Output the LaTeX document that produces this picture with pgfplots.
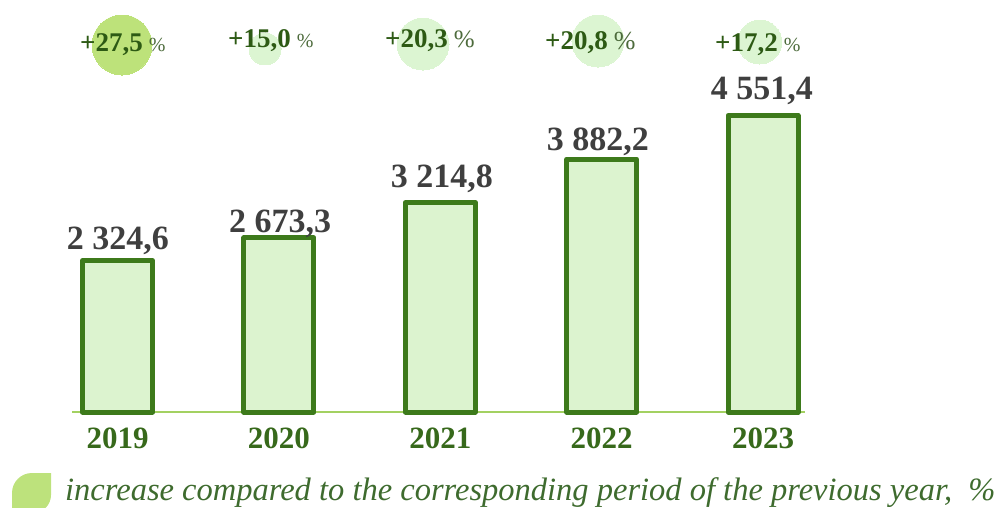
\documentclass[border=0pt]{standalone}
\usepackage{fontspec}
\setmainfont{Liberation Serif}
\usepackage{xcolor}
\usepackage{pgfplots}
\pgfplotsset{compat=1.18}
\definecolor{bargreen}{HTML}{3D7A1B}
\definecolor{barfill}{HTML}{DCF3CF}
\definecolor{axgreen}{HTML}{A3D161}
\definecolor{circstrong}{HTML}{BDE27A}
\definecolor{circlight}{HTML}{DCF5D2}
\definecolor{valgray}{HTML}{3F3F3F}
\definecolor{yeargreen}{HTML}{37691B}
\definecolor{pctgreen}{HTML}{2D5A14}
\definecolor{pctsign}{HTML}{4D6B3C}
\definecolor{leggreen}{HTML}{3E6B2E}
\definecolor{leaf}{HTML}{BDE27C}

\begin{document}
\begin{tikzpicture}
\useasboundingbox (0,0) rectangle (1003pt,507pt);
\begin{axis}[
    at={(72pt,95pt)}, anchor=south west,
    scale only axis, width=733pt, height=412pt,
    xmin=-0.282, xmax=4.26, ymin=0, ymax=6325,
    axis y line=none, axis x line=bottom,
    x axis line style={draw=none},
    xtick={0,1,2,3,4},
    xticklabels={2019,2020,2021,2022,2023},
    major tick length=0pt,
    xticklabel style={anchor=base, yshift=-36pt, inner sep=0pt,
        font=\fontsize{31}{31}\selectfont\bfseries, text=yeargreen},
    clip=false,
]
% baseline
\addplot[axgreen, line width=1.5pt] coordinates {(-0.282,0) (4.26,0)};
% growth circles
\addplot[circstrong, only marks, mark=*, mark size=30pt, mark options={fill=circstrong, line width=0pt}] coordinates {(0.028,5634)};
\addplot[circlight, only marks, mark=*, mark size=16pt, mark options={fill=circlight, line width=0pt}] coordinates {(0.914,5573)};
\addplot[circlight, only marks, mark=*, mark size=26pt, mark options={fill=circlight, line width=0pt}] coordinates {(1.893,5649)};
\addplot[circlight, only marks, mark=*, mark size=26pt, mark options={fill=circlight, line width=0pt}] coordinates {(2.977,5695)};
\addplot[circlight, only marks, mark=*, mark size=22pt, mark options={fill=circlight, line width=0pt}] coordinates {(3.980,5680)};
% bars
\addplot[ybar, bar width=70pt, draw=bargreen, line width=5pt, line join=round, fill=barfill]
    coordinates {(0,2324.6) (1,2673.3) (2,3214.8) (3,3882.2) (4,4551.4)};
% value labels
\tikzset{vl/.style={anchor=base, inner sep=0pt, text=valgray,
    font=\fontsize{34}{34}\selectfont\bfseries}}
\node[vl] at (axis cs:0.003,2502) {2 324,6};
\node[vl] at (axis cs:1.007,2763) {2 673,3};
\node[vl] at (axis cs:2.010,3439) {3 214,8};
\node[vl] at (axis cs:2.977,4007) {3 882,2};
\node[vl] at (axis cs:3.993,4805) {4 551,4};
\end{axis}
% growth labels
\tikzset{pl/.style={anchor=base west, inner sep=0pt, text=pctgreen}}
\newcommand{\pct}[2]{{\fontsize{27}{27}\selectfont\bfseries #1}\hspace{6pt}{\fontsize{#2}{#2}\selectfont\color{pctsign}\%}}
\node[pl] at (80pt,455pt) {\pct{+27,5}{20}};
\node[pl] at (228pt,459pt) {\pct{+15,0}{20}};
\node[pl] at (385pt,459pt) {\pct{+20,3}{25}};
\node[pl] at (545pt,457pt) {\pct{+20,8}{26}};
\node[pl] at (715pt,455pt) {\pct{+17,2}{20}};
% legend
\fill[leaf] (12pt,-6pt) -- (12pt,14pt) to[out=90,in=180] (32pt,34pt) -- (51pt,34pt)
    -- (51pt,12pt) to[out=-90,in=0] (33pt,-6pt) -- cycle;
\node[anchor=base west, inner sep=0pt, text=leggreen,
    font=\fontsize{32.5}{32.5}\selectfont\itshape] at (65pt,7pt)
    {increase compared to the corresponding period of the previous year,\ \ \%};
\end{tikzpicture}
\end{document}
